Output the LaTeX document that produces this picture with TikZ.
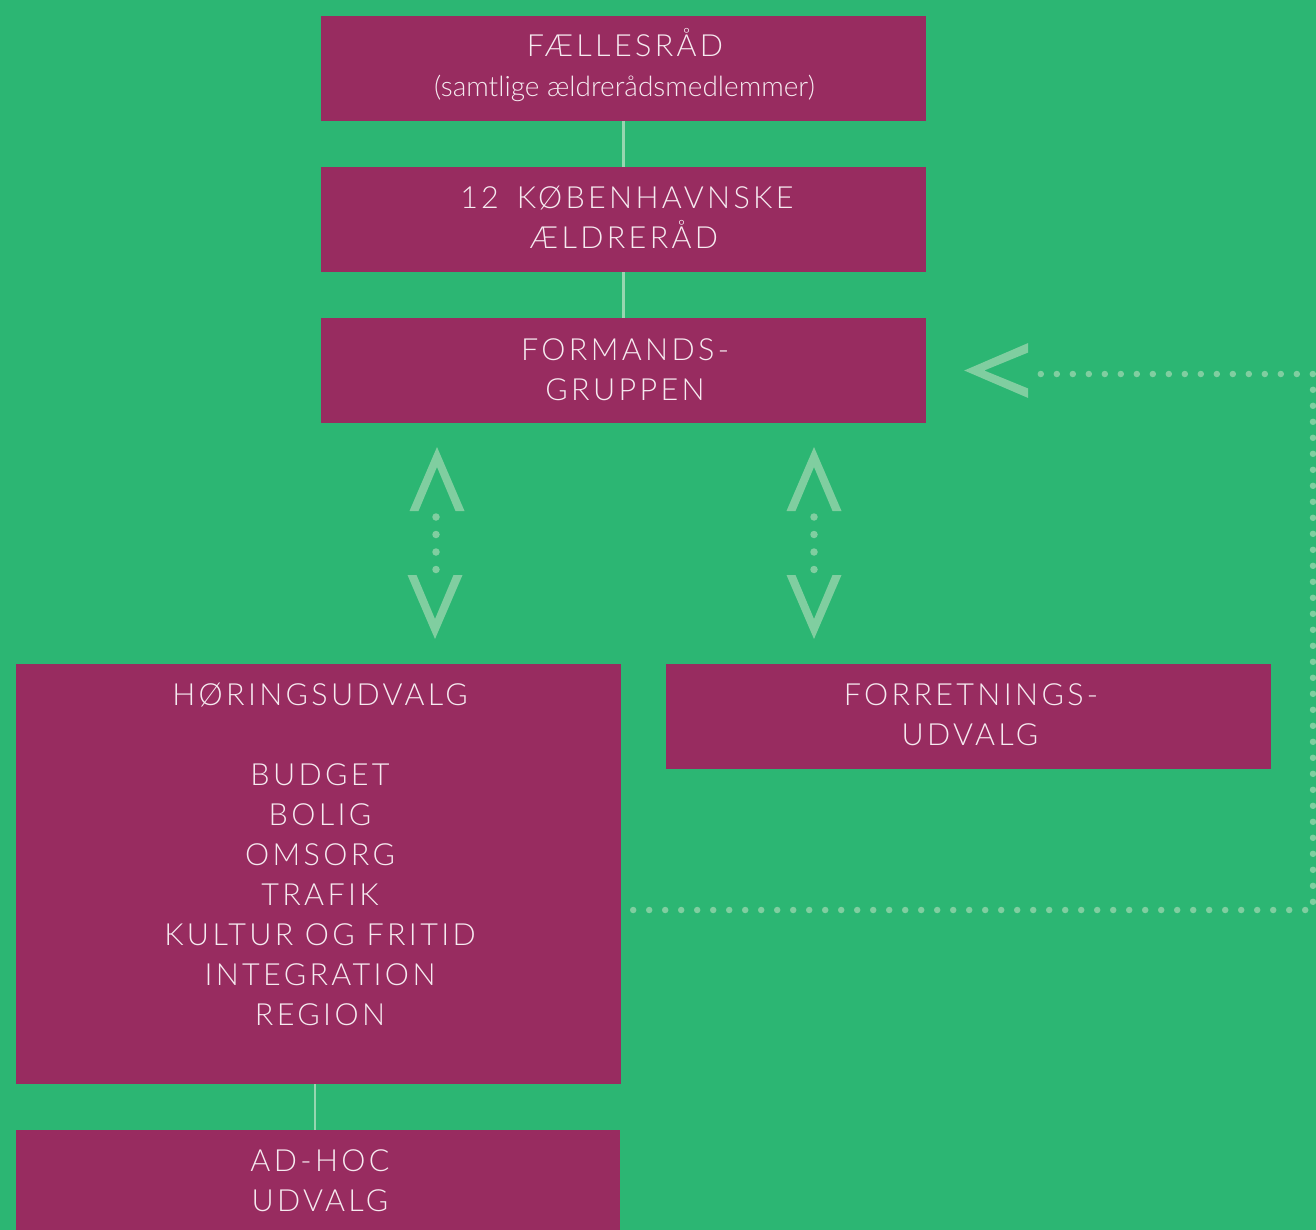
\documentclass[tikz,border=0pt]{standalone}
\usepackage{fontspec}
\setmainfont{Lato}[UprightFont=* Light]
\newfontfamily\capsfont{Lato}[UprightFont=* Light, LetterSpace=11]
\usetikzlibrary{calc}
\definecolor{bg}{RGB}{44,182,115}
\definecolor{mag}{RGB}{152,44,96}
\definecolor{lg}{RGB}{128,206,160}
\definecolor{lline}{RGB}{150,214,176}
\definecolor{txt}{RGB}{246,234,240}
\tikzset{
  box/.style={fill=mag, inner sep=0pt, minimum width=605pt, minimum height=105pt},
  caps/.style={font=\capsfont\fontsize{30.5}{40}\selectfont, text=txt, anchor=base, inner sep=0pt},
  sub/.style={font=\fontsize{28}{32}\selectfont, text=txt, anchor=base, inner sep=0pt},
  link/.style={draw=lline, line width=2.2pt},
  dotline/.style={draw=lg, line width=6.5pt, line cap=round, dash pattern=on 0pt off 16pt},
  vdots/.style={draw=lg, line width=7.5pt, line cap=round, dash pattern=on 0pt off 17.5pt},
  upchev/.pic={\fill[lg] (-27.5,64) -- (0,0) -- (27.5,64) -- (18.5,64) -- (0,20) -- (-18.5,64) -- cycle;},
  downchev/.pic={\fill[lg] (-27.5,-64) -- (0,0) -- (27.5,-64) -- (18.5,-64) -- (0,-20) -- (-18.5,-64) -- cycle;},
  leftchev/.pic={\fill[lg] (64,-27.5) -- (0,0) -- (64,27.5) -- (64,18) -- (20,0) -- (64,-18) -- cycle;}
}
\begin{document}
\begin{tikzpicture}[x=1pt,y=-1pt]
\useasboundingbox (0,0) rectangle (1316,1230);
\clip (0,0) rectangle (1316,1230);
\fill[bg] (0,0) rectangle (1316,1230);

% boxes
\node[box] (fr) at (623.5,68.5) {};
\node[box] (kb) at (623.5,219.5) {};
\node[box] (fm) at (623.5,370.5) {};
\node[box, minimum height=420pt] (hu) at (318.5,874) {};
\node[box] (fo) at (968.5,716.5) {};
\node[box, minimum width=604pt] (ah) at (318,1182.5) {};

% links
\draw[link] (fr.south) -- (kb.north);
\draw[link] (kb.south) -- (fm.north);
\draw[link] ([xshift=-3.5pt]hu.south) -- ([xshift=-3.5pt]hu.south |- ah.north);

% texts
\node[caps] (t1) at (625,57) {FÆLLESRÅD};
\node[sub] (t2) at (624.5,97) {(samtlige ældrerådsmedlemmer)};
\node[caps] (t3) at (627,209) {1\hspace{3pt}2\hspace{18pt}KØBENHAVNSKE};
\node[caps] (t4) at (624,249) {ÆLDRERÅD};
\node[caps] (t5) at (625,360) {FORMANDS-};
\node[caps] (t6) at (625,400) {GRUPPEN};
\node[caps] (h0) at (320,705) {HØRINGSUDVALG};
\foreach \i/\t in {1/BUDGET,2/BOLIG,3/OMSORG,4/TRAFIK,5/KULTUR OG FRITID,6/INTEGRATION,7/REGION}
  \node[caps] (h\i) at (320,745+40*\i) {\t};
\node[caps] (f1) at (971,705) {FORRETNINGS-};
\node[caps] (f2) at (970,745) {UDVALG};
\node[caps] (a1) at (320,1171) {AD-HOC};
\node[caps] (a2) at (320,1211) {UDVALG};

% double arrows formands <-> udvalg
\coordinate (ua) at (437,447);
\coordinate (da) at (435,639);
\pic at (ua) {upchev};
\pic at (da) {downchev};
\draw[vdots] (436,517) -- (436,572);
\coordinate (ub) at (814,447);
\coordinate (db) at (814,639);
\pic at (ub) {upchev};
\pic at (db) {downchev};
\draw[vdots] (814,517) -- (814,572);

% feedback dotted connector
\coordinate (c1) at (1313,910);
\coordinate (c2) at (1313,374);
\coordinate (c3) at (1037,374);
\draw[dotline] ([xshift=12pt,yshift=-36pt]hu.east) -- (c1) -- (c2) -- (c3);
\pic at ($(fm.east)+(38,0)$) {leftchev};
\end{tikzpicture}
\end{document}
